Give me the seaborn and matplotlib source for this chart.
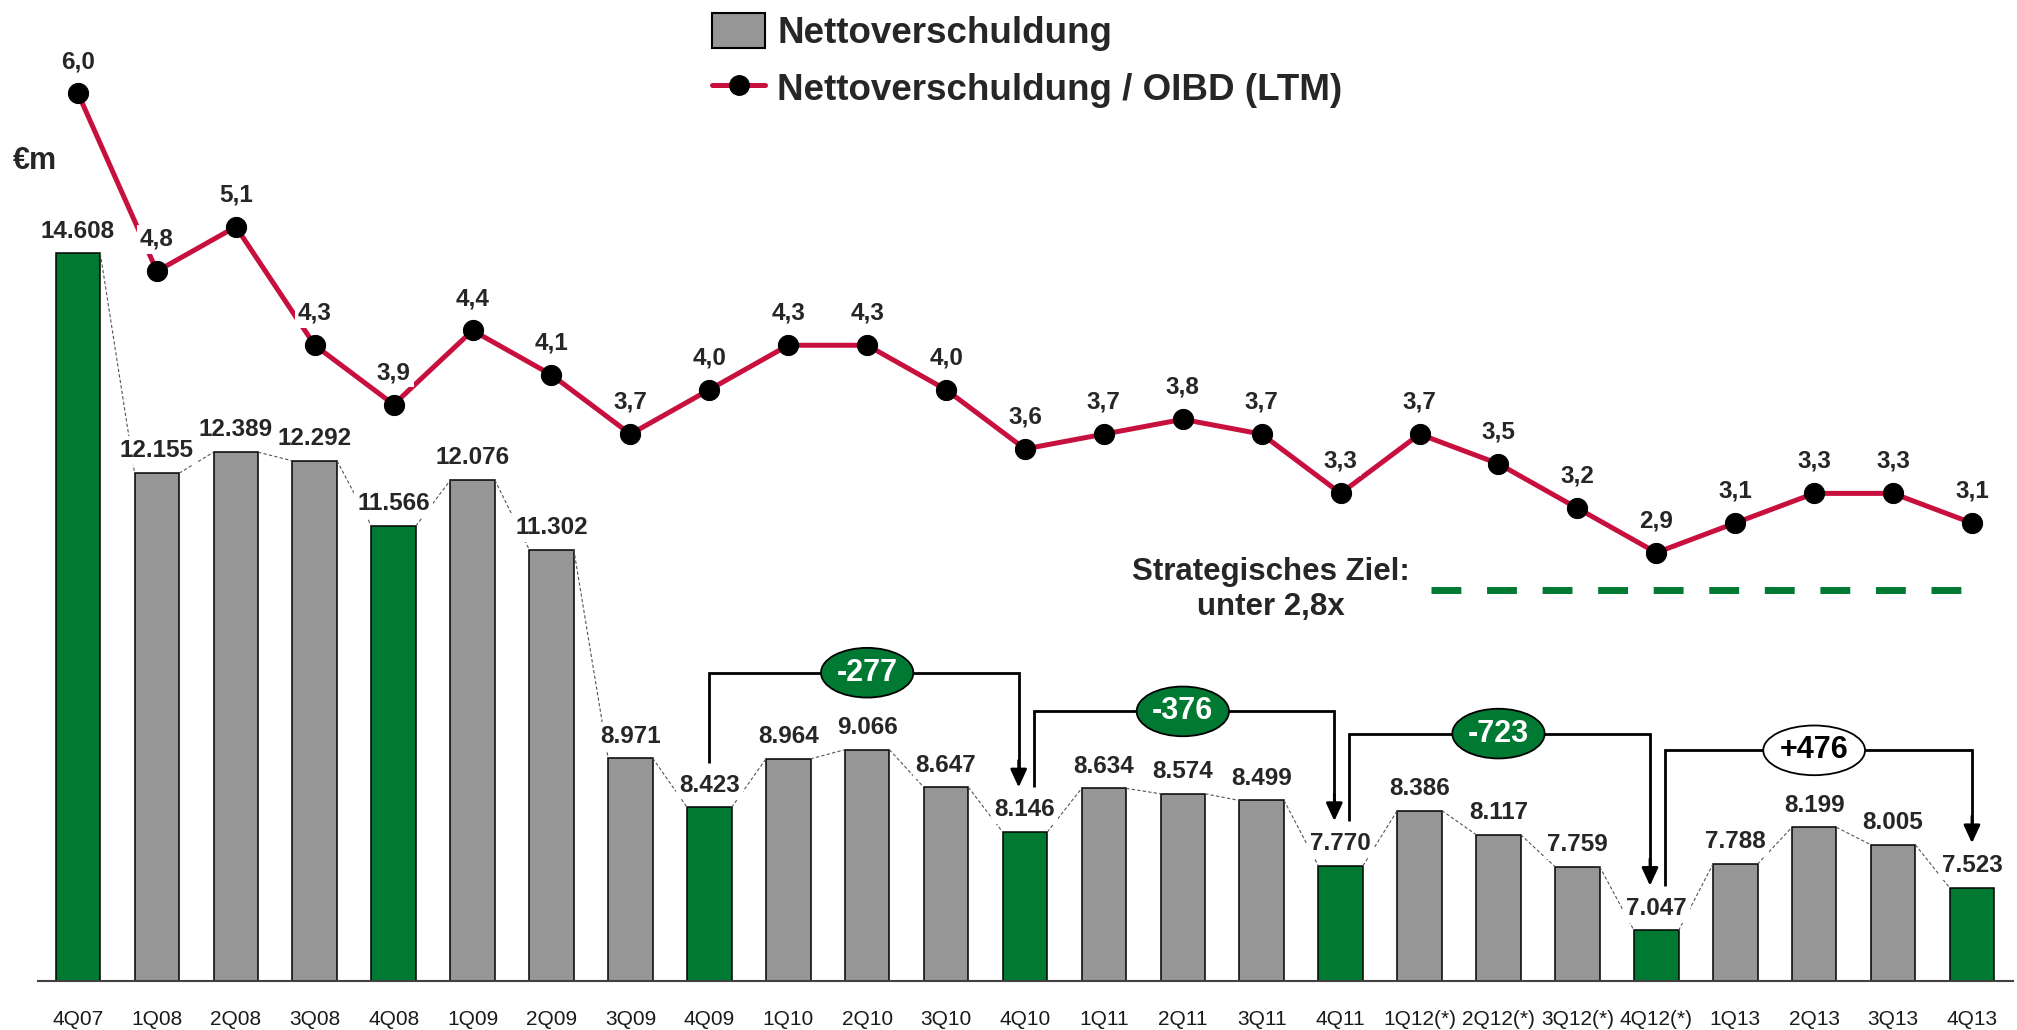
import numpy as np
import pandas as pd
import matplotlib
matplotlib.use('Agg')
import matplotlib.pyplot as plt
from matplotlib.patches import Ellipse, Patch
from matplotlib.lines import Line2D
import seaborn as sns

# %% data
quarters = ['4Q07', '1Q08', '2Q08', '3Q08', '4Q08', '1Q09', '2Q09', '3Q09', '4Q09',
            '1Q10', '2Q10', '3Q10', '4Q10', '1Q11', '2Q11', '3Q11', '4Q11',
            '1Q12(*)', '2Q12(*)', '3Q12(*)', '4Q12(*)', '1Q13', '2Q13', '3Q13', '4Q13']
net_debt = [14608, 12155, 12389, 12292, 11566, 12076, 11302, 8971, 8423,
            8964, 9066, 8647, 8146, 8634, 8574, 8499, 7770,
            8386, 8117, 7759, 7047, 7788, 8199, 8005, 7523]
leverage = [6.0, 4.8, 5.1, 4.3, 3.9, 4.4, 4.1, 3.7, 4.0,
            4.3, 4.3, 4.0, 3.6, 3.7, 3.8, 3.7, 3.3,
            3.7, 3.5, 3.2, 2.9, 3.1, 3.3, 3.3, 3.1]
bridges = [(8, 12), (12, 16), (16, 20), (20, 24)]   # year-end to year-end
target_level = 2.65          # where the dashed target line sits on the ratio scale
legend_labels = ['Nettoverschuldung', 'Nettoverschuldung / OIBD (LTM)']
target_text = 'Strategisches Ziel:\nunter 2,8x'
unit_label = '€m'

GREEN = '#007A33'
GREY = '#969696'
RED = '#C8103E'

n = len(quarters)
bar_colors = [GREEN if q.startswith('4Q') else GREY for q in quarters]


def fmt_de(v):
    return f'{v:,}'.replace(',', '.')


def fmt_ratio(r):
    return f'{r:.1f}'.replace('.', ',')


sns.set_style('white')
plt.rcParams['font.family'] = ['Liberation Sans', 'DejaVu Sans']

W, H = 2017, 1030
fig = plt.figure(figsize=(W / 100, H / 100), dpi=100)
ax = fig.add_axes([38 / W, 49 / H, 1975 / W, 981 / H])

df = pd.DataFrame({'quarter': quarters, 'debt': net_debt})
bar_w = 0.565
sns.barplot(data=df, x='quarter', y='debt', hue='quarter', palette=bar_colors,
            saturation=1, width=bar_w, edgecolor='black', linewidth=1.1,
            legend=False, ax=ax, zorder=2)

ax.set_xlim(-0.507, 24.52)
ax.set_ylim(6483, 17439)
for s in ['top', 'left', 'right']:
    ax.spines[s].set_visible(False)
ax.spines['bottom'].set_color('#404040')
ax.spines['bottom'].set_linewidth(1.5)
ax.spines['bottom'].set_zorder(6)
ax.set_xlabel('')
ax.set_ylabel('')
ax.set_yticks([])
ax.set_xticks(range(n), quarters)
ax.tick_params(axis='x', length=0, pad=21, labelsize=15, labelcolor='#1a1a1a')

# thin dashed connectors between bar tops
for k in range(n - 1):
    ax.plot([k + bar_w / 2, k + 1 - bar_w / 2], [net_debt[k], net_debt[k + 1]],
            ls=(0, (3, 2)), color='#555555', lw=0.8, zorder=3)

# bar value labels
for k, v in enumerate(net_debt):
    ax.annotate(fmt_de(v), (k, v), xytext=(0, 16), textcoords='offset points',
                ha='center', va='center', fontsize=17.5, fontweight='bold',
                bbox=dict(boxstyle='square,pad=0.12', fc='white', ec='none'), zorder=5)

# year-on-year bridges
starts = [b[0] for b in bridges]
ends = [b[1] for b in bridges]
for i, j in bridges:
    x0 = i + (0.11 if i in ends else 0)
    x1 = j - (0.08 if j in starts else 0)
    y0 = net_debt[i] + 500
    y1 = net_debt[j] + 500
    top = max(net_debt[i:j + 1]) + 860
    ax.plot([x0, x0, x1, x1], [y0, top, top, y1 + 200], color='black', lw=2,
            zorder=4, solid_joinstyle='miter', solid_capstyle='butt')
    ax.annotate('', xy=(x1, y1), xytext=(x1, y1 + 300),
                arrowprops=dict(arrowstyle='-|>,head_length=0.54,head_width=0.25',
                                color='black', lw=2, shrinkA=0, shrinkB=0,
                                mutation_scale=20), zorder=4)
    delta = net_debt[j] - net_debt[i]
    mid = (i + j) / 2
    ell = Ellipse((mid, top), width=1.17 if delta < 0 else 1.29, height=555,
                  fc=GREEN if delta < 0 else 'white', ec='black', lw=1.3, zorder=6)
    ax.add_patch(ell)
    ax.text(mid, top, f'{delta:+d}', ha='center', va='center', fontsize=22,
            fontweight='bold', color='white' if delta < 0 else 'black', zorder=7)

# leverage line on the second scale
ax2 = ax.twinx()
ax2.set_ylim(0.008, 6.631)
sns.lineplot(x=np.arange(n), y=leverage, ax=ax2, color=RED, linewidth=3.6,
             marker='o', markersize=14.5, markerfacecolor='black',
             markeredgecolor='black', zorder=3)
for s in ax2.spines.values():
    s.set_visible(False)
ax2.set_yticks([])
ax2.set_ylabel('')

for k, r in enumerate(leverage):
    ax2.annotate(fmt_ratio(r), (k, r), xytext=(0, 23), textcoords='offset points',
                 ha='center', va='center', fontsize=17.5, fontweight='bold',
                 bbox=dict(boxstyle='square,pad=0.12', fc='white', ec='none'), zorder=5)

# strategic target
ax2.plot([17.14, 23.92], [target_level, target_level], color=GREEN, lw=5,
         dashes=(4.3, 3.7), zorder=2)
ax2.text(15.12, target_level, target_text, ha='center', va='center', fontsize=22.5,
         fontweight='bold', linespacing=1.2, zorder=5)

fig.text(35 / W, 1 - 161 / H, unit_label, ha='center', va='center',
         fontsize=22, fontweight='bold')

handles = [Patch(fc=GREY, ec='black', lw=1.5),
           Line2D([], [], color=RED, lw=3.6, marker='o', ms=14,
                  mfc='black', mec='black')]
fig.legend(handles, legend_labels, loc='upper left',
           bbox_to_anchor=(712 / W, 1 - 13 / H), frameon=False,
           prop=dict(weight='bold', size=26.5), handlelength=1.44,
           handleheight=1.09, handletextpad=0.33, labelspacing=0.5,
           borderpad=0, borderaxespad=0)

fig.savefig('out.png', dpi=100)
